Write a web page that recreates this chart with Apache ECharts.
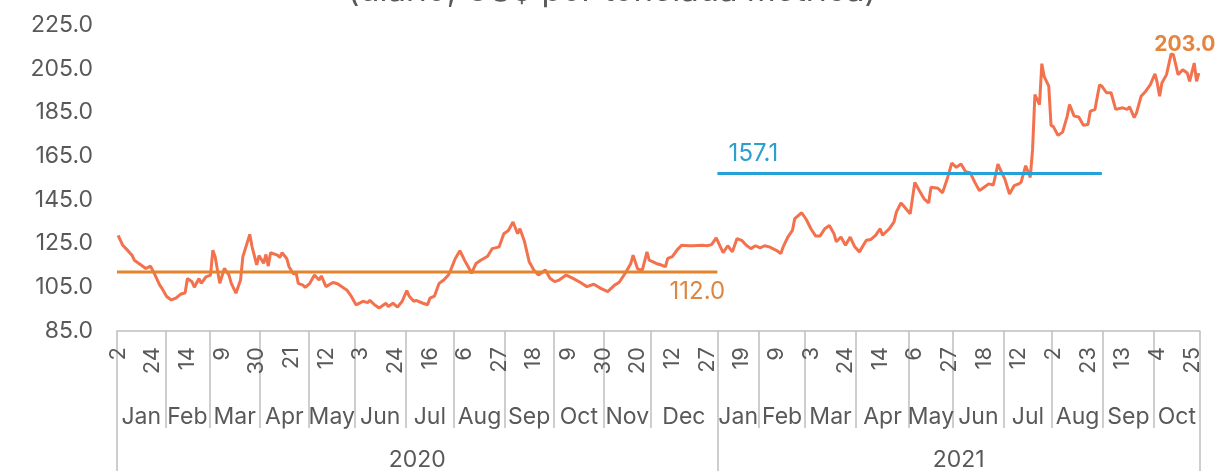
<!DOCTYPE html>
<html>
<head>
<meta charset="utf-8">
<script src="https://cdn.jsdelivr.net/npm/echarts@6/dist/echarts.min.js"></script>
<style>
html, body {margin: 0; padding: 0; background: #fff;}
#chart {width: 1224px; height: 472px;}
</style>
</head>
<body>
<div id="chart"></div>
<script>
// trading-day index (0 = 2 Jan 2020) and price
var dayIdx = [0, 2, 4, 6, 7, 9, 12, 14, 16, 18, 19, 21, 23, 25, 27, 29, 30, 32, 33, 35, 36, 38, 40, 41, 42, 44, 46, 48, 49, 51, 53, 54, 57, 58, 60, 61, 63, 64, 65, 66, 69, 70, 71, 73, 74, 76, 77, 78, 80, 81, 83, 85, 87, 88, 90, 93, 95, 98, 99, 101, 103, 105, 106, 108, 109, 111, 113, 116, 117, 119, 121, 123, 125, 126, 128, 129, 132, 134, 135, 137, 139, 141, 143, 144, 146, 148, 150, 152, 153, 155, 157, 160, 162, 165, 167, 169, 171, 173, 174, 176, 177, 178, 180, 182, 185, 187, 189, 191, 194, 197, 200, 203, 206, 209, 212, 215, 217, 220, 222, 223, 225, 227, 229, 230, 233, 235, 237, 238, 240, 242, 244, 247, 249, 253, 255, 257, 259, 261, 262, 264, 266, 268, 270, 272, 274, 276, 278, 280, 282, 285, 287, 288, 290, 292, 293, 296, 298, 300, 302, 304, 306, 308, 310, 311, 313, 315, 317, 319, 321, 324, 326, 328, 330, 331, 334, 336, 337, 339, 340, 343, 345, 347, 349, 351, 352, 355, 357, 359, 361, 363, 365, 367, 369, 371, 373, 375, 377, 379, 381, 382, 384, 386, 388, 390, 391, 393, 395, 396, 397, 399, 400, 401, 403, 404, 405, 407, 409, 411, 412, 414, 416, 418, 420, 421, 423, 425, 426, 428, 430, 432, 435, 437, 438, 440, 441, 443, 445, 447, 449, 450, 451, 452, 454, 456, 457, 459, 461, 463, 464, 466, 467, 468];
var price = [128.8, 124.2, 122, 119.7, 117.4, 115.9, 113.6, 114.7, 110.6, 106, 104.5, 100.8, 99.2, 100, 101.8, 102.5, 109, 107.5, 105, 109, 106.8, 109.8, 110.6, 122, 119, 106.8, 113.6, 110.6, 106.8, 102.3, 108.3, 119, 129.2, 123.5, 115.2, 119.5, 116, 120, 114.7, 120.8, 119.7, 118.6, 120.8, 118.2, 114.4, 111, 112, 106.8, 106, 105, 106.8, 110.6, 108.3, 110.2, 105.3, 107.2, 106.6, 104.5, 103.8, 100.8, 97, 98, 98.6, 98, 99, 97, 95.5, 97.7, 96.2, 97.7, 95.9, 98.6, 103.5, 101, 98.6, 99, 97.7, 97, 100, 101, 106.8, 108.3, 110.6, 112.9, 118.2, 121.7, 117.4, 113.6, 111.4, 115.9, 117.4, 119.2, 122.7, 123.5, 129.5, 131, 134.9, 129.5, 131.8, 125.8, 121.2, 116.7, 112.9, 110.6, 112.9, 109.1, 107.6, 108.3, 110.6, 109.1, 107.3, 105.3, 106.4, 104.5, 103, 106, 107.3, 112.1, 115.9, 119.7, 113.3, 112.9, 121.2, 117.4, 115.9, 115.3, 114.4, 118.2, 119, 122, 124.2, 124, 124, 124.2, 124, 124.5, 127.6, 123, 120.9, 124, 121.2, 127.3, 126.5, 124.2, 122.7, 124, 123, 124, 123.5, 121.9, 120.5, 123.5, 128, 131, 136.4, 139.1, 136, 131.8, 128.5, 128.5, 131.8, 133.3, 129.5, 125.8, 128, 124.2, 128, 123.5, 121.2, 126.5, 126.9, 128.8, 131.8, 128.8, 131.8, 134.9, 139.4, 143.6, 142.4, 138.6, 153, 149.2, 145.5, 143.6, 150.8, 150.3, 148.2, 154.5, 161.8, 159.9, 161.4, 157.9, 157.4, 153, 149.2, 150.8, 152.3, 151.8, 161.4, 158.9, 154.5, 147.7, 151.5, 152.3, 153, 160.6, 155.3, 168.2, 193.2, 188.6, 207.3, 201.5, 197, 179.1, 178.5, 174.5, 176, 183.3, 188.6, 183.3, 182.9, 179.1, 179.5, 185.6, 186.3, 197.7, 197, 194, 194, 186.4, 187.1, 186.4, 187.6, 182.6, 184.8, 192.4, 194.7, 197.7, 202.7, 198.5, 192.4, 198.5, 202.3, 211.8, 211.4, 202.3, 204.5, 203, 199.2, 207.6, 199.2, 203.0];

var dayTickIdx = [0, 15, 30, 45, 60, 75, 90, 105, 120, 135, 150, 165, 180, 195, 210, 225, 240, 255, 270, 285, 300, 315, 330, 345, 360, 375, 390, 405, 420, 435, 450, 465];
var dayTickLabels = ["2", "24", "14", "9", "30", "21", "12", "3", "24", "16", "6", "27", "18", "9", "30", "20", "12", "27", "19", "9", "3", "24", "14", "6", "27", "18", "12", "2", "23", "13", "4", "25"];

var monthNames = ["Jan", "Feb", "Mar", "Apr", "May", "Jun", "Jul", "Aug", "Sep", "Oct", "Nov", "Dec",
	"Jan", "Feb", "Mar", "Apr", "May", "Jun", "Jul", "Aug", "Sep", "Oct"];
var monthStarts = [0, 21, 40, 62, 83, 103, 125, 146, 168, 189, 211, 231, 260, 278, 298, 320, 343, 362, 384, 405, 427, 449, 469];

var yearNames = ["2020", "2021"];
var yearStarts = [0, 260, 469];

var avgValues = [112.0, 157.1];
var avgSpans = [[0, 260], [260, 426.5]];

var textColor = "#595959";
var lineGray = "#BFBFBF";
var font = "Inter";

// boundaries sit between two trading days
var monthBounds = monthStarts.map(function (m) { return m - 0.5; });
var monthMids = [];
for (var i = 0; i < monthNames.length; i++) {
	monthMids.push((monthStarts[i] + monthStarts[i + 1] - 1) / 2);
}
var yearBounds = yearStarts.map(function (y) { return y - 0.5; });
var yearMids = [];
for (var j = 0; j < yearNames.length; j++) {
	yearMids.push((yearStarts[j] + yearStarts[j + 1] - 1) / 2);
}

function pick(values, names) {
	return function (v) {
		for (var k = 0; k < values.length; k++) {
			if (Math.abs(values[k] - v) < 0.01) return names[k];
		}
		return "";
	};
}

function valueLabel(p) {
	return p.value[1].toFixed(1);
}

var priceData = dayIdx.map(function (d, k) {
	var item = {value: [d, price[k]]};
	if (k == dayIdx.length - 1) {
		item.label = {
			show: true, position: "top", offset: [-14, -12],
			formatter: valueLabel,
			color: "#E5853E", fontWeight: "bold", fontSize: 21, fontFamily: font
		};
	}
	return item;
});

var xMin = -0.5;
var xMax = monthStarts[monthStarts.length - 1] - 0.5;

// invisible symbols so the point labels still get drawn
var hiddenDot = {
	symbol: "circle", symbolSize: 2, showSymbol: true, showAllSymbol: true,
	itemStyle: {color: "rgba(0,0,0,0)", borderWidth: 0}
};

var myChart = echarts.init(document.getElementById("chart"));
var option = {
	backgroundColor: "#fff",
	animation: false,
	title: {
		text: "(diario, US$ por tonelada métrica)",
		left: "center",
		top: -30,
		textStyle: {color: textColor, fontSize: 33, fontWeight: "normal", fontFamily: font}
	},
	grid: {left: 117, right: 24, top: 25, bottom: 139},
	yAxis: {
		type: "value", min: 85, max: 225, interval: 20,
		axisLine: {show: false}, axisTick: {show: false}, splitLine: {show: false},
		axisLabel: {
			margin: 24, fontSize: 23, color: textColor, fontFamily: font,
			formatter: function (v) { return v.toFixed(1); }
		}
	},
	xAxis: [{
		type: "value", min: xMin, max: xMax, position: "bottom",
		axisLine: {show: true, onZero: false, lineStyle: {color: lineGray, width: 1.5}},
		axisTick: {show: false}, splitLine: {show: false},
		axisLabel: {
			customValues: dayTickIdx, rotate: 90, margin: 16,
			fontSize: 22, color: textColor, fontFamily: font,
			formatter: pick(dayTickIdx, dayTickLabels)
		}
	}, {
		type: "value", min: xMin, max: xMax, position: "bottom",
		axisLine: {show: false, onZero: false}, splitLine: {show: false},
		axisTick: {show: true, customValues: monthBounds, length: 97, lineStyle: {color: lineGray, width: 1.5}},
		axisLabel: {
			customValues: monthMids, margin: 75,
			fontSize: 23, color: textColor, fontFamily: font,
			formatter: pick(monthMids, monthNames)
		}
	}, {
		type: "value", min: xMin, max: xMax, position: "bottom",
		axisLine: {show: false, onZero: false}, splitLine: {show: false},
		axisTick: {show: true, customValues: yearBounds, length: 140, lineStyle: {color: lineGray, width: 1.5}},
		axisLabel: {
			customValues: yearMids, margin: 118,
			fontSize: 23, color: textColor, fontFamily: font,
			formatter: pick(yearMids, yearNames)
		}
	}],
	series: [Object.assign({
		name: "Precio",
		type: "line",
		xAxisIndex: 0,
		data: priceData,
		z: 2,
		lineStyle: {color: "#F3714D", width: 3}
	}, hiddenDot), Object.assign({
		name: "Promedio 2020",
		type: "line",
		xAxisIndex: 0,
		z: 3,
		lineStyle: {color: "#E4842F", width: 3},
		data: [
			{value: [avgSpans[0][0] - 0.5, avgValues[0]]},
			{value: [avgSpans[0][1] - 0.5, avgValues[0]], label: {
				show: true, position: "bottom", offset: [-20, 2],
				formatter: valueLabel,
				color: "#DC8741", fontSize: 24, fontFamily: font
			}}
		]
	}, hiddenDot), Object.assign({
		name: "Promedio 2021",
		type: "line",
		xAxisIndex: 0,
		z: 3,
		lineStyle: {color: "#22A2D6", width: 3},
		data: [
			{value: [avgSpans[1][0] - 0.5, avgValues[1]], label: {
				show: true, position: "top", offset: [36, -2],
				formatter: valueLabel,
				color: "#2A9FD0", fontSize: 24, fontFamily: font
			}},
			{value: [avgSpans[1][1] - 0.5, avgValues[1]]}
		]
	}, hiddenDot)]
};
myChart.setOption(option);
</script>
</body>
</html>
